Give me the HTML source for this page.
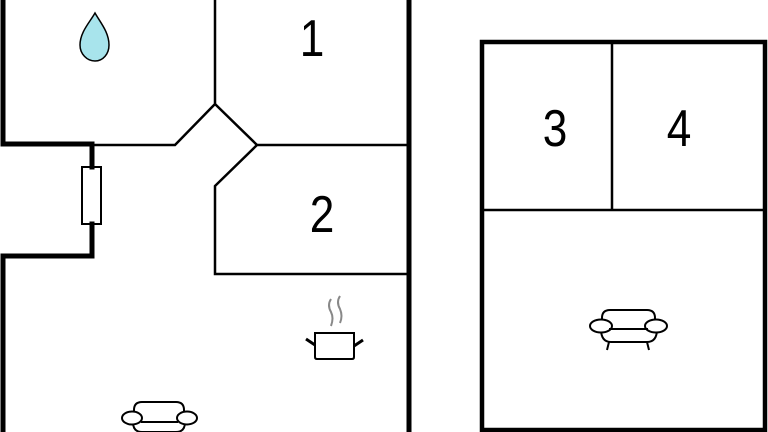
<!DOCTYPE html>
<html><head><style>body{margin:0;background:#fff}svg{display:block}</style></head><body>
<svg width="768" height="432" viewBox="0 0 768 432" xmlns="http://www.w3.org/2000/svg">
<g fill="none" stroke="#000" stroke-linecap="square">
<path d="M3,0 V144 H92 V167 M92,224 V256 H3 V432" stroke-width="5"/>
<path d="M409,0 V432" stroke-width="5"/>
<rect x="82" y="167" width="19" height="57" stroke-width="2"/>
<path d="M92,145 H175 L215,104 L257,145 H408 M215,0 V104 M257,145 L215,186 V274 H408" stroke-width="2.5"/>
<rect x="482" y="42" width="283" height="388" stroke-width="4.5"/>
<path d="M482,210 H765 M612,42 V210" stroke-width="2.5"/>
</g>
<path d="M95,13 C90,22 80,32 80,45 C80,54 87,61 95,61 C103,61 109,54 109,45 C109,32 100,22 95,13 Z" fill="#a8e4ec" stroke="#000" stroke-width="1.5"/>
<g stroke="#000" fill="none">
<path d="M315,333 H354 V357 Q354,359 352,359 H317 Q315,359 315,357 Z" stroke-width="2"/>
<path d="M306,339 L315,345 M363,340 L354,346" stroke-width="3"/>
<path d="M331,299 Q327,305 331,312 Q334,318 331,326 M340,296 Q336,302 340,309 Q343,316 340,323" stroke="#888" stroke-width="2"/>
</g>
<g stroke="#000" fill="#fff" stroke-width="2">
<path d="M134,423 V410 Q134,402 142,402 H176 Q184,402 184,410 V423"/>
<path d="M133,422 Q133,432 142,432 H176 Q185,432 185,422"/>
<ellipse cx="132" cy="418" rx="10" ry="6.5"/>
<ellipse cx="187" cy="418" rx="10" ry="6.5"/>
<path d="M141,422 H178"/>
</g>
<g stroke="#000" fill="#fff" stroke-width="2">
<path d="M602,328 V318 Q602,310 610,310 H647 Q655,310 655,318 V328"/>
<path d="M601,329 Q601,342 611,342 H647 Q657,342 657,329"/>
<ellipse cx="601" cy="326" rx="11" ry="6.5"/>
<ellipse cx="656" cy="326" rx="11" ry="6.5"/>
<path d="M609,329 H648 M609,342 L607,350 M647,342 L649,350"/>
</g>
<g font-family="Liberation Sans, sans-serif" font-size="52" text-anchor="middle" fill="#000">
<text transform="translate(312,56) scale(0.85,1)">1</text>
<text transform="translate(322,232) scale(0.85,1)">2</text>
<text transform="translate(555,146) scale(0.85,1)">3</text>
<text transform="translate(679,146) scale(0.85,1)">4</text>
</g>
</svg>
</body></html>
